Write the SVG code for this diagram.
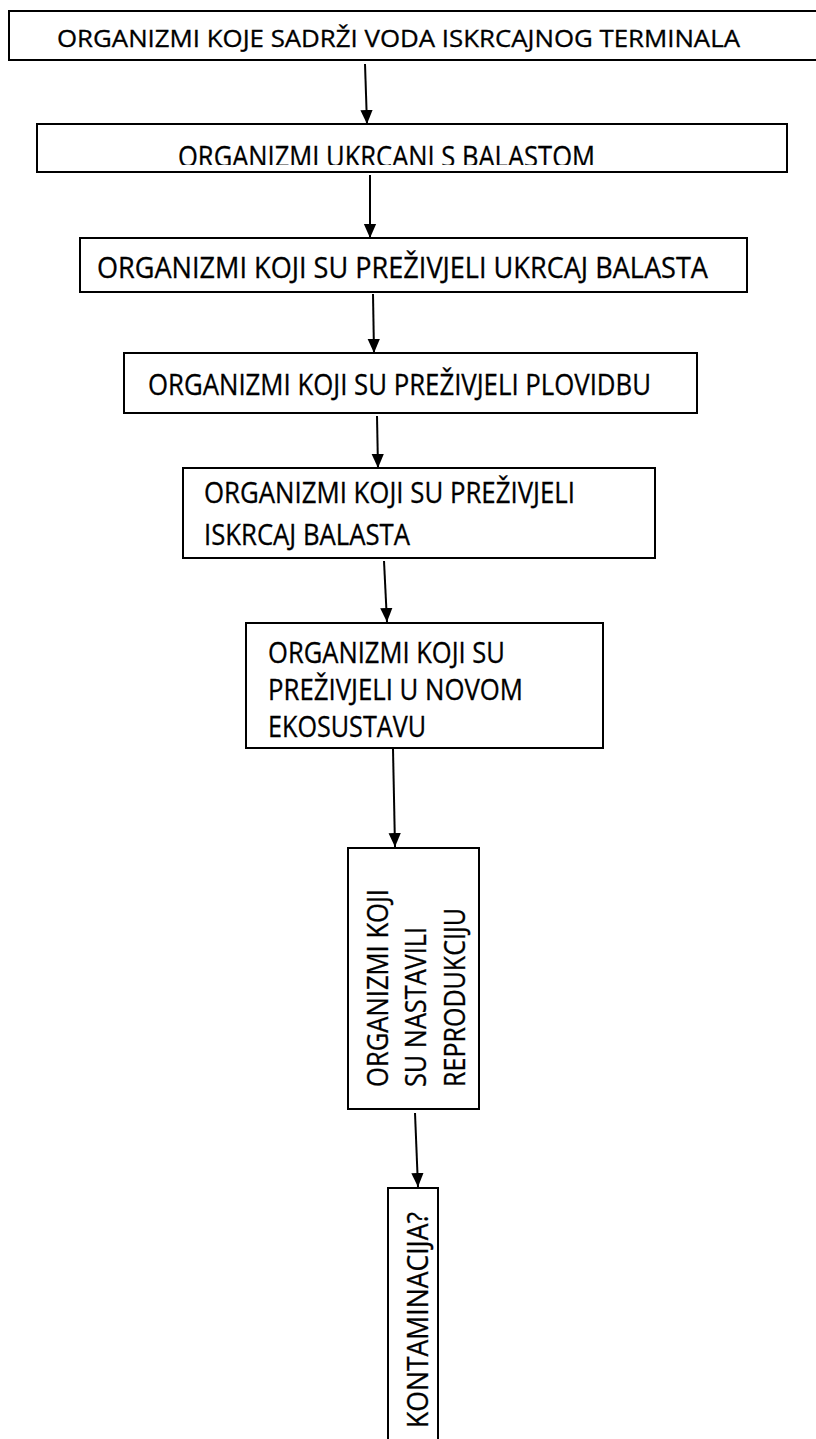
<svg xmlns="http://www.w3.org/2000/svg" width="816" height="1439" viewBox="0 0 816 1439">
<style>
.box{fill:#fff;stroke:#000;stroke-width:2}
.t{font-family:"Open Sans","Liberation Sans",sans-serif;font-size:28.5px;fill:#000;stroke:#000;stroke-width:0.3}
.c{stroke:#000;stroke-width:2;fill:none;marker-end:url(#ah)}
</style>
<defs>
<marker id="ah" markerUnits="userSpaceOnUse" markerWidth="14" markerHeight="16" refX="16" refY="7" orient="auto" viewBox="0 0 16 14">
<path d="M0,0 L16,7 L0,14 z" fill="#000"/>
</marker>
<clipPath id="clip2"><rect x="37" y="124" width="750" height="41"/></clipPath>
</defs>
<rect width="816" height="1439" fill="#fff"/>
<g id="connectors">
<line class="c" x1="365" y1="64" x2="367" y2="124"/>
<line class="c" x1="370" y1="175" x2="370" y2="238"/>
<line class="c" x1="373" y1="294" x2="374" y2="353"/>
<line class="c" x1="377" y1="416" x2="378" y2="468"/>
<line class="c" x1="384" y1="561" x2="387" y2="622"/>
<line class="c" x1="393" y1="749" x2="395" y2="847"/>
<line class="c" x1="415" y1="1113" x2="418" y2="1187"/>
</g>
<g id="n1">
<rect class="box" x="9" y="11" width="820" height="49"/>
<text class="t" style="font-size:24px" x="57" y="47" textLength="683" lengthAdjust="spacingAndGlyphs">ORGANIZMI KOJE SADRŽI VODA ISKRCAJNOG TERMINALA</text>
</g>
<g id="n2">
<rect class="box" x="37" y="124" width="750" height="48"/>
<text class="t" x="178" y="167" textLength="417" lengthAdjust="spacingAndGlyphs" clip-path="url(#clip2)">ORGANIZMI UKRCANI S BALASTOM</text>
</g>
<g id="n3">
<rect class="box" x="80" y="238" width="667" height="54"/>
<text class="t" x="97" y="278" textLength="611" lengthAdjust="spacingAndGlyphs">ORGANIZMI KOJI SU PREŽIVJELI UKRCAJ BALASTA</text>
</g>
<g id="n4">
<rect class="box" x="124" y="353" width="573" height="60"/>
<text class="t" x="148" y="395" textLength="503" lengthAdjust="spacingAndGlyphs">ORGANIZMI KOJI SU PREŽIVJELI PLOVIDBU</text>
</g>
<g id="n5">
<rect class="box" x="183" y="468" width="472" height="90"/>
<text class="t" x="204" y="503" textLength="371" lengthAdjust="spacingAndGlyphs">ORGANIZMI KOJI SU PREŽIVJELI</text>
<text class="t" x="204" y="545" textLength="206" lengthAdjust="spacingAndGlyphs">ISKRCAJ BALASTA</text>
</g>
<g id="n6">
<rect class="box" x="246" y="623" width="357" height="125"/>
<text class="t" x="268" y="663" textLength="237" lengthAdjust="spacingAndGlyphs">ORGANIZMI KOJI SU</text>
<text class="t" x="268" y="700" textLength="255" lengthAdjust="spacingAndGlyphs">PREŽIVJELI U NOVOM</text>
<text class="t" x="268" y="737" textLength="158" lengthAdjust="spacingAndGlyphs">EKOSUSTAVU</text>
</g>
<g id="n7">
<rect class="box" x="348" y="848" width="131" height="261"/>
<text class="t" transform="translate(388,1087) rotate(-90)" textLength="198" lengthAdjust="spacingAndGlyphs">ORGANIZMI KOJI</text>
<text class="t" transform="translate(426,1087) rotate(-90)" textLength="160" lengthAdjust="spacingAndGlyphs">SU NASTAVILI</text>
<text class="t" transform="translate(465,1087) rotate(-90)" textLength="179" lengthAdjust="spacingAndGlyphs">REPRODUKCIJU</text>
</g>
<g id="n8">
<rect class="box" x="388" y="1188" width="50" height="260"/>
<text class="t" transform="translate(428,1428) rotate(-90)" textLength="216" lengthAdjust="spacingAndGlyphs">KONTAMINACIJA?</text>
</g>
</svg>
